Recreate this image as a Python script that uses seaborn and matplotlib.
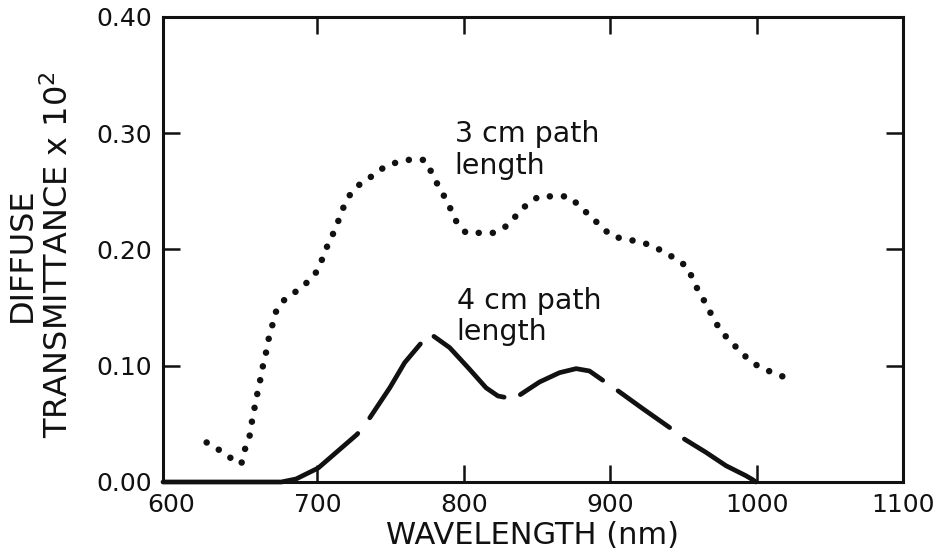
import matplotlib
matplotlib.use("Agg")
import matplotlib.pyplot as plt
import pandas as pd
import seaborn as sns

# Diffuse transmittance (x 10^2) versus wavelength for two path lengths
wavelength_3cm = [
    624.3, 632.3, 640.3, 648.0, 650.1, 653.4, 654.8, 656.6, 658.4, 660.5,
    662.2, 664.4, 666.2, 668.7, 670.9, 676.8, 684.4, 691.9, 698.5, 703.0,
    706.6, 710.5, 714.4, 717.7, 722.4, 729.6, 737.8, 745.8, 754.2, 764.1,
    773.2, 777.8, 782.1, 786.7, 791.2, 795.3, 801.5, 810.6, 820.1, 829.4,
    836.4, 843.1, 851.3, 861.3, 871.5, 879.4, 886.3, 893.8, 900.6, 909.5,
    918.8, 927.7, 935.8, 944.0, 952.4, 956.5, 960.4, 965.4, 969.9, 974.9,
    980.8, 987.7, 994.3, 1002.3, 1010.9, 1019.6,
]
transmittance_3cm = [
    0.034, 0.028, 0.021, 0.0155, 0.027, 0.0375, 0.049, 0.061, 0.073, 0.085,
    0.097, 0.108, 0.121, 0.132, 0.145, 0.156, 0.163, 0.1705, 0.179, 0.191,
    0.2026, 0.213, 0.225, 0.236, 0.2475, 0.257, 0.2635, 0.271, 0.275, 0.2775,
    0.277, 0.2667, 0.2558, 0.2455, 0.2343, 0.2229, 0.2143, 0.2143, 0.2143, 0.2203,
    0.230, 0.2388, 0.2457, 0.2457, 0.2457, 0.2372, 0.2286, 0.220, 0.2117, 0.209,
    0.207, 0.2037, 0.1985, 0.1925, 0.1853, 0.1745, 0.1637, 0.1534, 0.1419, 0.1313,
    0.1225, 0.1139, 0.1056, 0.0985, 0.0942, 0.0899,
]

wavelength_4cm = [
    594.5, 675.3, 685.4, 700.5, 712.9, 727.1, 735.9, 749.4, 759.6, 770.5,
    775.3, 779.3, 790.3, 803.9, 815.2, 823.3, 828.5, 832.8, 837.8, 851.7,
    865.3, 876.7, 885.8, 894.9, 904.7, 922.1, 940.4, 949.9, 965.4, 979.1,
    992.7, 997.3, 999.5,
]
transmittance_4cm = [
    0.0, 0.0, 0.0026, 0.012, 0.0255, 0.041, 0.0555, 0.081, 0.1027, 0.119,
    0.1262, 0.1255, 0.1156, 0.097, 0.081, 0.074, 0.0727, 0.0728, 0.0745, 0.086,
    0.094, 0.0975, 0.0955, 0.0875, 0.079, 0.0632, 0.047, 0.0375, 0.0255, 0.014,
    0.0054, 0.002, 0.0,
]

x_ticks = [600, 700, 800, 900, 1000, 1100]
y_ticks = [0.00, 0.10, 0.20, 0.30, 0.40]

df3 = pd.DataFrame({"wavelength": wavelength_3cm, "transmittance": transmittance_3cm})
df4 = pd.DataFrame({"wavelength": wavelength_4cm, "transmittance": transmittance_4cm})

sns.set_theme(style="ticks")
plt.rcParams["font.family"] = ["DejaVu Sans"]
plt.rcParams["mathtext.fontset"] = "dejavusans"
plt.rcParams["mathtext.default"] = "regular"

ink = "#111111"

fig = plt.figure(figsize=(9.5, 5.53), dpi=100)
ax = fig.add_axes([0.1716, 0.1284, 0.9505 - 0.1716, 0.9693 - 0.1284])

# dotted trace: near-zero dashes with round caps give evenly spaced dots
sns.lineplot(
    data=df3, x="wavelength", y="transmittance", ax=ax, color=ink,
    linewidth=4.7, linestyle=(0, (0.01, 2.15)), dash_capstyle="round",
    solid_capstyle="round", sort=False, estimator=None,
)
# hand-drawn style long dashes of uneven length (units of line width)
long_dashes = (44.6, 4.18, 19.0, 3.75, 19.97, 3.54, 19.44, 3.96, 13.4, 3.96, 30.0, 5.0)
sns.lineplot(
    data=df4, x="wavelength", y="transmittance", ax=ax, color=ink,
    linewidth=3.4, linestyle=(0, long_dashes), dash_capstyle="round",
    sort=False, estimator=None, clip_on=False,
)

ax.set_xlim(594.5, 1100)
ax.set_ylim(0.0, 0.40)
ax.set_xticks(x_ticks)
ax.set_xticklabels([str(v) for v in x_ticks])
ax.set_yticks(y_ticks)
ax.set_yticklabels([f"{v:.2f}" for v in y_ticks])

for side in ["left", "right", "top", "bottom"]:
    ax.spines[side].set_visible(True)
    ax.spines[side].set_linewidth(2.2)
    ax.spines[side].set_color(ink)

ax.tick_params(axis="both", direction="in", length=12, width=1.8, color=ink,
               labelsize=18, labelcolor=ink, pad=8,
               top=True, right=True, labeltop=False, labelright=False)
first = ax.xaxis.get_major_ticks()[0]
first.tick1line.set_visible(False)
first.tick2line.set_visible(False)

ax.set_xlabel("WAVELENGTH (nm)", fontsize=22, color=ink, labelpad=3)
ax.set_ylabel("")
fig.text(0.043, 0.539, "DIFFUSE\nTRANSMITTANCE x 10$^{2}$", rotation=90,
         ha="center", va="center", fontsize=23, color=ink, linespacing=1.15,
         multialignment="center")

ax.text(793.7, 0.311, "3 cm path\nlength", ha="left", va="top",
        fontsize=20.5, color=ink, linespacing=1.15)
ax.text(795.0, 0.168, "4 cm path\nlength", ha="left", va="top",
        fontsize=20.5, color=ink, linespacing=1.15)

fig.savefig("out.png", dpi=100, facecolor="white")
